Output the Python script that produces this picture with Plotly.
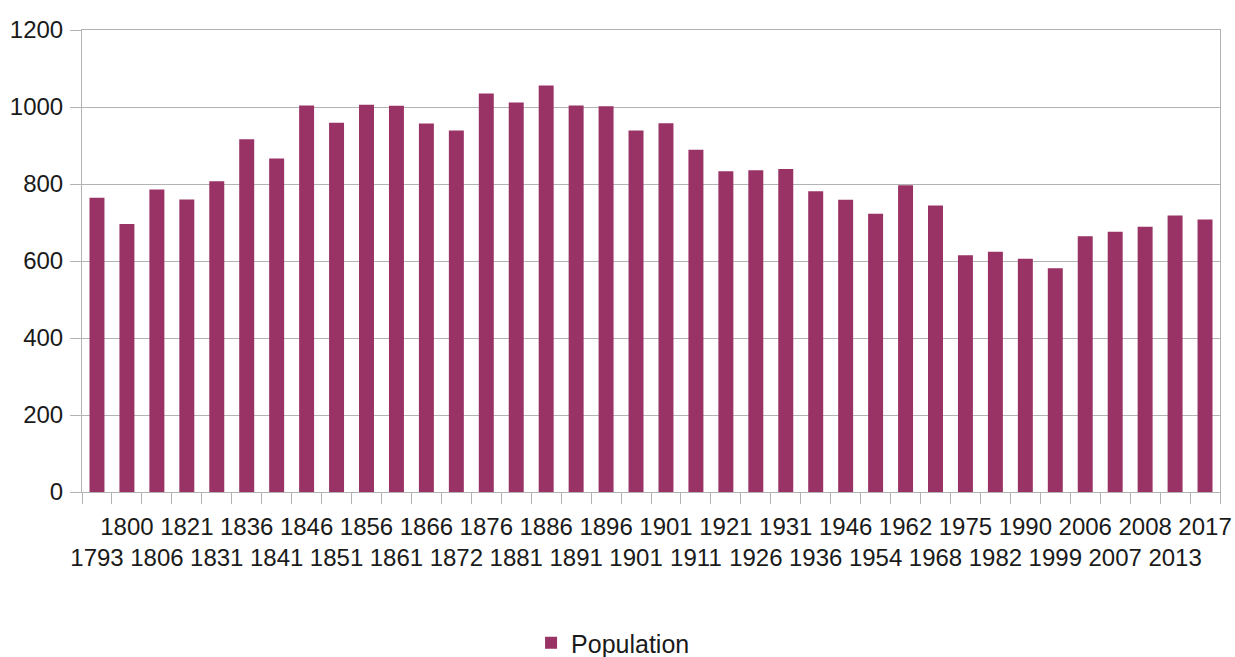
import plotly.graph_objects as go

years = ["1793", "1800", "1806", "1821", "1831", "1836", "1841", "1846", "1851", "1856",
         "1861", "1866", "1872", "1876", "1881", "1886", "1891", "1896", "1901", "1901",
         "1911", "1921", "1926", "1931", "1936", "1946", "1954", "1962", "1968", "1975",
         "1982", "1990", "1999", "2006", "2007", "2008", "2013", "2017"]
population = [764, 696, 786, 760, 807, 916, 866, 1004, 959, 1006,
              1003, 957, 939, 1035, 1012, 1056, 1004, 1002, 939, 958,
              889, 833, 836, 839, 781, 759, 723, 797, 744, 615,
              624, 606, 581, 664, 676, 689, 718, 708]
y_ticks = [0, 200, 400, 600, 800, 1000, 1200]

positions = list(range(len(years)))
# alternate labels on two rows, like the original
tick_text = [("<br>" + y) if i % 2 == 0 else y for i, y in enumerate(years)]

FONT = "Liberation Sans, Arial, sans-serif"
GRID = "#b3b3b3"
TXT = "#1a1a1a"

fig = go.Figure()
fig.add_trace(go.Bar(
    x=positions, y=population, name="Population",
    marker=dict(color="#993366", line=dict(width=0)),
    showlegend=True,
))

fig.update_layout(
    width=1235, height=657,
    margin=dict(l=82, r=15, t=30, b=165),
    paper_bgcolor="white", plot_bgcolor="white",
    bargap=0.5,
    font=dict(family=FONT, size=24, color=TXT),
    showlegend=True,
    legend=dict(orientation="h", xref="container", yref="container",
                x=0.4964, xanchor="center", y=0.0213, yanchor="middle",
                font=dict(size=25, family=FONT, color=TXT)),
    xaxis=dict(
        range=[-0.5, len(years) - 0.5],
        tickmode="array", tickvals=positions, ticktext=tick_text,
        tickangle=0, automargin=False, ticklabelstandoff=13,
        ticks="", showgrid=False,
        showline=True, linecolor=GRID, linewidth=1, mirror=True,
        minor=dict(tickmode="linear", tick0=-0.5, dtick=1, ticks="outside",
                   ticklen=11, tickcolor=GRID, tickwidth=1, showgrid=False),
        tickfont=dict(size=24, family=FONT, color=TXT),
        zeroline=False, fixedrange=True,
    ),
    yaxis=dict(
        range=[0, 1200], tickmode="array", tickvals=y_ticks,
        automargin=False, ticklabelstandoff=2,
        ticks="outside", ticklen=11, tickcolor=GRID,
        showgrid=True, gridcolor=GRID, gridwidth=1,
        showline=True, linecolor=GRID, linewidth=1, mirror=True,
        zeroline=False,
        tickfont=dict(size=24, family=FONT, color=TXT),
    ),
)

fig.write_html("out.html",
               config={"displayModeBar": False},
               post_script="document.body.style.margin='0';document.body.style.overflow='hidden';")
